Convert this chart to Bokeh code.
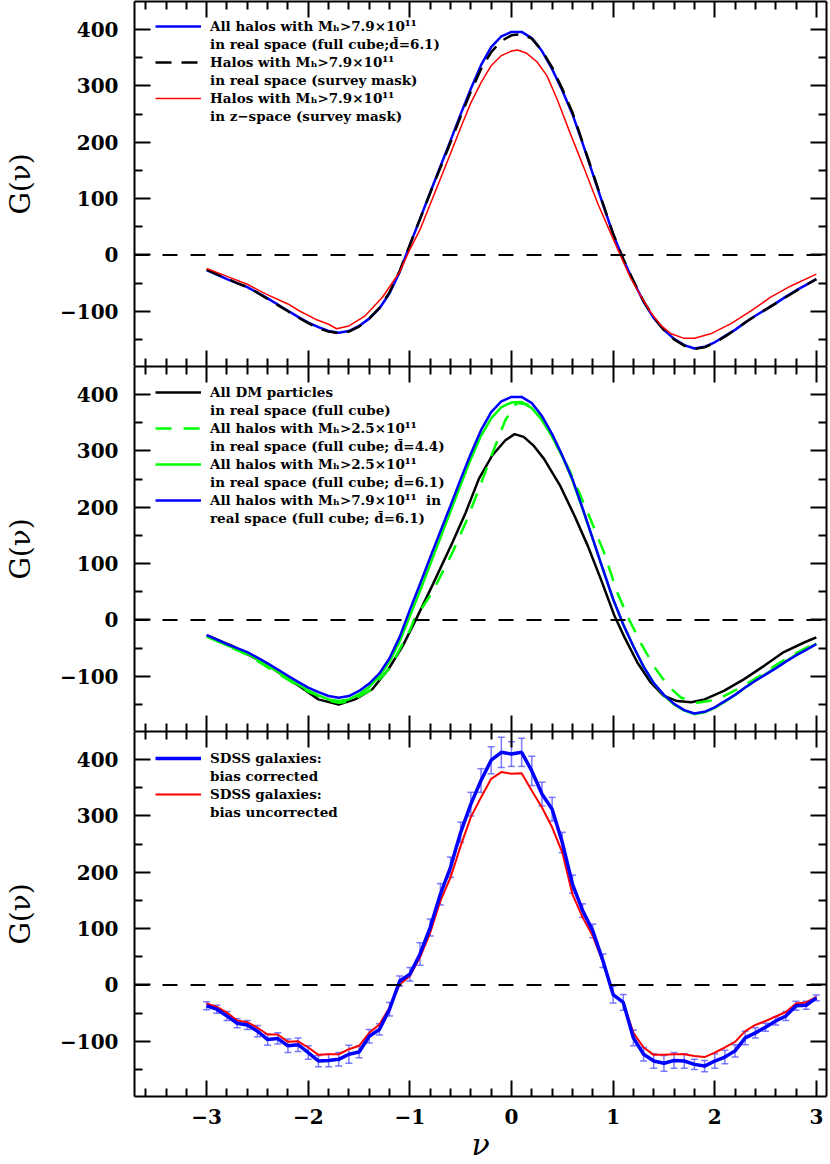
import numpy as np
from bokeh.plotting import figure
from bokeh.models import (Range1d, FixedTicker, LinearAxis, Span, Legend, LegendItem,
                          ColumnDataSource, Whisker, TeeHead, CustomJSTickFormatter)
from bokeh.layouts import column
from bokeh.embed import file_html
from bokeh.resources import INLINE

# ---------------- data ----------------
nu_grid = [-3.0, -2.9, -2.8, -2.7, -2.6, -2.5, -2.4, -2.3, -2.2, -2.1,
           -2.0, -1.9, -1.8, -1.7, -1.6, -1.5, -1.4, -1.3, -1.2, -1.1,
           -1.0, -0.9, -0.8, -0.7, -0.6, -0.5, -0.4, -0.3, -0.2, -0.1,
           0.0, 0.1, 0.2, 0.3, 0.4, 0.5, 0.6, 0.7, 0.8, 0.9,
           1.0, 1.1, 1.2, 1.3, 1.4, 1.5, 1.6, 1.7, 1.8, 1.9,
           2.0, 2.1, 2.2, 2.3, 2.4, 2.5, 2.6, 2.7, 2.8, 2.9, 3.0]

# halos Mh>7.9e11, real space, full cube (panels 1 and 2)
g_halo79_full = [-27, -35, -43, -50, -57, -67, -77, -88, -99, -110,
                 -120, -128, -135, -138, -135, -126, -113, -95, -68, -30,
                 18, 64, 111, 157, 203, 250, 295, 337, 369, 388,
                 396, 396, 385, 362, 330, 292, 250, 198, 144, 90,
                 37, -8, -47, -83, -112, -133, -149, -160, -166, -163,
                 -155, -144, -133, -120, -108, -97, -86, -74, -63, -53, -43]

# halos Mh>7.9e11, real space, survey mask
g_halo79_mask = [-26, -34, -42, -50, -57, -67, -78, -89, -100, -111,
                 -121, -130, -136, -139, -136, -127, -113, -94, -66, -28,
                 18, 64, 110, 155, 200, 246, 290, 330, 360, 380,
                 390, 392, 384, 363, 333, 295, 253, 200, 146, 91,
                 38, -7, -46, -82, -111, -133, -150, -161, -167, -164,
                 -156, -145, -133, -120, -108, -97, -86, -75, -64, -53, -43]

# halos Mh>7.9e11, z-space, survey mask
nu_halo79_z = [-3.0, -2.8, -2.6, -2.42, -2.2, -2.09, -1.93, -1.8, -1.72, -1.6,
               -1.44, -1.27, -1.1, -1.0, -0.9, -0.8, -0.7, -0.6, -0.5, -0.4,
               -0.3, -0.2, -0.1, 0.0, 0.06, 0.15, 0.25, 0.35, 0.45, 0.58,
               0.71, 0.85, 0.98, 1.08, 1.17, 1.27, 1.37, 1.47, 1.57, 1.7,
               1.8, 1.96, 2.16, 2.36, 2.55, 2.75, 3.0]
g_halo79_z = [-24, -38, -52, -69, -87, -99, -114, -123, -131, -126,
              -108, -75, -30, 10, 45, 90, 135, 180, 226, 270,
              306, 336, 354, 362, 364, 358, 343, 318, 276, 215,
              156, 91, 37, -4, -40, -72, -102, -125, -140, -148,
              -148, -140, -122, -99, -75, -55, -34]

# all DM particles
nu_dm = [-3.0, -2.75, -2.42, -2.09, -1.9, -1.7, -1.54, -1.37, -1.21, -1.07,
         -0.94, -0.78, -0.58, -0.45, -0.32, -0.19, -0.06, 0.03, 0.12, 0.22,
         0.32, 0.48, 0.62, 0.75, 0.88, 1.01, 1.11, 1.24, 1.37, 1.5,
         1.63, 1.77, 1.9, 2.09, 2.29, 2.49, 2.68, 2.88, 3.0]
g_dm = [-27, -46, -78, -117, -141, -150, -141, -123, -87, -46,
        1, 61, 138, 191, 251, 292, 319, 330, 325, 309,
        286, 238, 185, 132, 72, 9, -30, -76, -111, -135,
        -144, -146, -141, -126, -105, -81, -57, -40, -31]

# halos Mh>2.5e11, d=4.4
nu_halo25_d44 = [-3.0, -2.6, -2.2, -2.0, -1.8, -1.7, -1.6, -1.4, -1.2, -1.1,
                 -1.0, -0.96, -0.78, -0.58, -0.45, -0.32, -0.19, -0.06, 0.05, 0.15,
                 0.25, 0.42, 0.58, 0.75, 0.91, 1.04, 1.16, 1.27, 1.4, 1.54,
                 1.67, 1.83, 2.03, 2.22, 2.42, 2.62, 2.82, 3.0]
g_halo25_d44 = [-29, -62, -106, -127, -143, -147, -145, -126, -86, -52,
                -18, 0, 49, 120, 173, 233, 295, 355, 385, 383,
                369, 321, 262, 191, 120, 49, 0, -40, -82, -117,
                -138, -147, -141, -123, -102, -78, -57, -40]

# halos Mh>2.5e11, d=6.1
g_halo25_d61 = [-29, -37, -45, -52, -60, -70, -81, -92, -104, -115,
                -125, -134, -141, -144, -141, -132, -119, -100, -74, -38,
                7, 52, 99, 146, 193, 240, 286, 327, 358, 378,
                386, 387, 376, 355, 325, 290, 248, 197, 144, 90,
                37, -8, -47, -83, -112, -134, -150, -161, -167, -164,
                -156, -145, -133, -120, -108, -96, -85, -73, -62, -52, -42]

# SDSS galaxies
g_sdss_corr = [-37, -43, -55, -68, -71, -82, -97, -95, -108, -106,
               -120, -135, -134, -132, -123, -119, -91, -79, -43, 7,
               19, 55, 102, 161, 209, 271, 321, 363, 399, 413,
               410, 413, 380, 339, 312, 253, 179, 132, 96, 43,
               -17, -31, -94, -123, -135, -139, -134, -135, -141, -144,
               -135, -128, -117, -94, -85, -75, -64, -55, -37, -36, -23]
err_sdss_corr = [7, 7, 8, 8, 8, 10, 10, 10, 12, 12,
                 12, 10, 11, 12, 16, 10, 12, 10, 12, 9,
                 12, 20, 15, 19, 18, 18, 21, 21, 24, 27,
                 22, 25, 26, 21, 21, 18, 16, 12, 12, 12,
                 15, 14, 14, 12, 13, 14, 14, 13, 9, 10,
                 13, 12, 11, 12, 9, 7, 7, 8, 8, 7, 5]
g_sdss_unc = [-33, -39, -49, -63, -66, -76, -88, -88, -101, -100,
              -111, -124, -123, -123, -114, -108, -85, -70, -40, 1,
              16, 49, 93, 149, 191, 247, 298, 333, 366, 378,
              375, 376, 345, 315, 280, 235, 161, 120, 87, 40,
              -17, -31, -85, -111, -124, -124, -123, -123, -126, -128,
              -120, -111, -101, -82, -71, -64, -56, -48, -33, -31, -21]

x_major = [-3, -2, -1, 0, 1, 2, 3]
x_minor = [-3.6, -3.4, -3.2, -2.8, -2.6, -2.4, -2.2, -1.8, -1.6, -1.4, -1.2,
           -0.8, -0.6, -0.4, -0.2, 0.2, 0.4, 0.6, 0.8, 1.2, 1.4, 1.6, 1.8,
           2.2, 2.4, 2.6, 2.8]
y_major = [-100, 0, 100, 200, 300, 400]
y_minor = [-150, -50, 50, 150, 250, 350]

# ---------------- styling ----------------
XR = (-3.71, 3.10)
YR = (-198, 450)
FH = 365
FONT = "DejaVu Serif"
BLUE, RED, GREEN, BLACK = "#0000ff", "#ff0000", "#00ff00", "#000000"

fmt_js = "return tick < 0 ? '\u2212' + Math.abs(tick) : String(tick);"


def style_axis(ax, major, minor, labels):
    ax.ticker = FixedTicker(ticks=major, minor_ticks=minor)
    ax.axis_line_color = BLACK
    ax.axis_line_width = 2
    ax.major_tick_line_color = BLACK
    ax.major_tick_line_width = 2
    ax.minor_tick_line_color = BLACK
    ax.minor_tick_line_width = 2
    ax.major_tick_in = 16
    ax.major_tick_out = 0
    ax.minor_tick_in = 8
    ax.minor_tick_out = 0
    if labels:
        ax.formatter = CustomJSTickFormatter(code=fmt_js)
        ax.major_label_text_font = FONT
        ax.major_label_text_font_style = "bold"
        ax.major_label_text_font_size = "20px"
        ax.major_label_text_color = BLACK
    else:
        ax.formatter = CustomJSTickFormatter(code="return '';")
        ax.major_label_text_font_size = "0px"
        ax.major_label_standoff = 0


def make_panel(bottom_labels, top_border):
    p = figure(frame_width=692, frame_height=FH,
               x_range=Range1d(*XR), y_range=Range1d(*YR),
               output_backend="svg", toolbar_location=None,
               min_border_left=128, min_border_right=2,
               min_border_top=top_border, min_border_bottom=0)
    p.outline_line_color = None
    p.xgrid.visible = False
    p.ygrid.visible = False
    p.background_fill_color = "white"
    p.border_fill_color = "white"

    xb = p.xaxis[0]
    style_axis(xb, x_major, x_minor, bottom_labels)
    if bottom_labels:
        xb.major_label_standoff = 12
        xb.axis_label = "ν"
        xb.axis_label_text_font = FONT
        xb.axis_label_text_font_style = "italic"
        xb.axis_label_text_font_size = "30px"
        xb.axis_label_text_color = BLACK
        xb.axis_label_standoff = 0

    yl = p.yaxis[0]
    style_axis(yl, y_major, y_minor, True)
    yl.major_label_standoff = 16
    yl.axis_label = "G(ν)"
    yl.axis_label_text_font = FONT
    yl.axis_label_text_font_style = "normal"
    yl.axis_label_text_font_size = "28px"
    yl.axis_label_text_color = BLACK
    yl.axis_label_standoff = 20

    xt = LinearAxis()
    style_axis(xt, x_major, x_minor, False)
    p.add_layout(xt, "above")
    yr = LinearAxis()
    style_axis(yr, y_major, y_minor, False)
    p.add_layout(yr, "right")

    p.add_layout(Span(location=0, dimension="width", line_color=BLACK,
                      line_width=2, line_dash="15 13"))
    return p


def add_legend(p, entries, top_offset):
    blank = p.line(x=[], y=[], line_alpha=0)
    items = []
    for r, l1, l2 in entries:
        items.append(LegendItem(label=l1, renderers=[r]))
        items.append(LegendItem(label=l2, renderers=[blank]))
    n = len(items)
    leg = Legend(items=items, location=(21, FH - top_offset - 18 * n),
                 orientation="vertical", padding=0, margin=0, spacing=0,
                 label_height=18, glyph_height=18, glyph_width=46,
                 label_standoff=9, background_fill_alpha=0,
                 border_line_alpha=0, label_text_font=FONT,
                 label_text_font_style="bold", label_text_font_size="13.5px",
                 label_text_color=BLACK)
    p.add_layout(leg)


MH79 = "M\u2095>7.9\u00d710\u00b9\u00b9"
MH25 = "M\u2095>2.5\u00d710\u00b9\u00b9"
DBAR = "d\u0304"

# ---------------- panel 1 ----------------
p1 = make_panel(False, 1)
r1b = p1.line(nu_grid, g_halo79_full, line_color=BLUE, line_width=2.5)
r1k = p1.line(nu_grid, g_halo79_mask, line_color=BLACK, line_width=2.5, line_dash="16 10")
r1r = p1.line(nu_halo79_z, g_halo79_z, line_color=RED, line_width=1.5)
add_legend(p1, [
    (r1b, "All halos with " + MH79, "in real space (full cube;" + DBAR + "=6.1)"),
    (r1k, "Halos with " + MH79, "in real space (survey mask)"),
    (r1r, "Halos with " + MH79, "in z\u2212space (survey mask)"),
], 16)

# ---------------- panel 2 ----------------
p2 = make_panel(False, 0)
r2k = p2.line(nu_dm, g_dm, line_color=BLACK, line_width=2.5)
r2gd = p2.line(nu_halo25_d44, g_halo25_d44, line_color=GREEN, line_width=2.5, line_dash="16 12")
r2g = p2.line(nu_grid, g_halo25_d61, line_color=GREEN, line_width=2.5)
r2b = p2.line(nu_grid, g_halo79_full, line_color=BLUE, line_width=2.5)
add_legend(p2, [
    (r2k, "All DM particles", "in real space (full cube)"),
    (r2gd, "All halos with " + MH25, "in real space (full cube; " + DBAR + "=4.4)"),
    (r2g, "All halos with " + MH25, "in real space (full cube; " + DBAR + "=6.1)"),
    (r2b, "All halos with " + MH79 + "  in", "real space (full cube; " + DBAR + "=6.1)"),
], 17)

# ---------------- panel 3 ----------------
p3 = make_panel(True, 0)
g_c = np.array(g_sdss_corr, dtype=float)
e_c = np.array(err_sdss_corr, dtype=float)
err_src = ColumnDataSource(dict(x=nu_grid, upper=g_c + e_c, lower=g_c - e_c))
ERRC = "#5a5aff"
wh = Whisker(source=err_src, base="x", upper="upper", lower="lower",
             dimension="height", line_color=ERRC, line_width=1.5, line_alpha=0.8,
             upper_head=TeeHead(size=7, line_color=ERRC, line_width=1.5, line_alpha=0.8),
             lower_head=TeeHead(size=7, line_color=ERRC, line_width=1.5, line_alpha=0.8))
p3.add_layout(wh)
r3r = p3.line(nu_grid, g_sdss_unc, line_color=RED, line_width=2)
r3b = p3.line(nu_grid, g_sdss_corr, line_color=BLUE, line_width=3.5)
add_legend(p3, [
    (r3b, "SDSS galaxies:", "bias corrected"),
    (r3r, "SDSS galaxies:", "bias uncorrected"),
], 18)

layout = column(p1, p2, p3, spacing=0)
open("out.html", "w").write(file_html(layout, INLINE))
